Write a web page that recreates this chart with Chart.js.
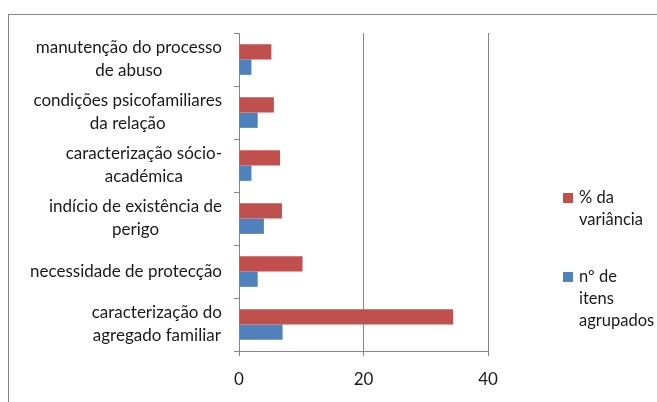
<!DOCTYPE html>
<html><head><meta charset="utf-8">
<script src="https://cdn.jsdelivr.net/npm/chart.js@4"></script>
<style>html,body{margin:0;padding:0;background:#fff;overflow:hidden}#w{position:relative;width:657px;height:402px}</style>
</head><body><div id="w"><canvas id="c" width="657" height="402"></canvas></div>
<script>
const categories = [
  ["manutenção do processo","de abuso"],
  ["condições psicofamiliares","da relação"],
  ["caracterização sócio-","académica"],
  ["indício de existência de","perigo"],
  ["necessidade de protecção"],
  ["caracterização do","agregado familiar"]
];
const seriesNames = ["% da variância", "nº de itens agrupados"];
const legendLines = [["% da","variância"],["nº de","itens","agrupados"]];
const variancia = [5.2, 5.6, 6.6, 6.9, 10.2, 34.4];
const itens = [2, 3, 2, 4, 3, 7];
const xTicks = [0, 20, 40];

const FONT = "Lato, 'Open Sans', sans-serif";
const TXT = '#1a1a1a';
const AX = '#868686';

const customText = {
  id: 'customText',
  beforeDraw(chart) {
    const ctx = chart.ctx;
    ctx.save();
    ctx.strokeStyle = AX; ctx.lineWidth = 1;
    ctx.strokeRect(8.5, 14.5, 800, 600);
    ctx.restore();
  },
  afterDraw(chart) {
    const ctx = chart.ctx;
    const y = chart.scales.y;
    ctx.save();
    ctx.font = '17px ' + FONT;
    ctx.fillStyle = TXT;
    ctx.textAlign = 'center';
    ctx.textBaseline = 'middle';
    const right = 222, lh = 23;
    chart.data.labels.forEach((lines, i) => {
      const cy = y.getPixelForTick(i);
      const w = Math.max(...lines.map(l => ctx.measureText(l).width));
      const cx = right - w / 2;
      lines.forEach((l, k) => {
        ctx.fillText(l, cx, cy + (k - (lines.length - 1) / 2) * lh);
      });
    });
    // legend
    ctx.font = '16.5px ' + FONT;
    const legTops = [193, 272];
    chart.data.datasets.forEach((ds, i) => {
      const top = legTops[i];
      ctx.fillStyle = ds.backgroundColor;
      ctx.fillRect(563, top, 10, 10);
      ctx.fillStyle = TXT;
      ctx.textAlign = 'left';
      legendLines[i].forEach((l, k) => {
        ctx.fillText(l, 579, top + 5 + k * 22);
      });
    });
    ctx.restore();
  }
};

new Chart(document.getElementById('c'), {
  type: 'bar',
  data: {
    labels: categories,
    datasets: [
      { label: seriesNames[0], data: variancia, backgroundColor: '#C0504D', borderWidth: 0 },
      { label: seriesNames[1], data: itens, backgroundColor: '#4F81BD', borderWidth: 0 }
    ]
  },
  options: {
    indexAxis: 'y',
    responsive: false,
    animation: false,
    devicePixelRatio: 1,
    layout: { padding: { left: 0, top: 33, right: 169, bottom: 0 } },
    datasets: { bar: { categoryPercentage: 0.58, barPercentage: 1.0 } },
    plugins: { legend: { display: false }, tooltip: { enabled: false } },
    scales: {
      x: {
        min: 0, max: 40,
        afterBuildTicks(s) { s.ticks = xTicks.map(v => ({ value: v })); },
        afterFit(s) { s.height = 51; },
        grid: { color: AX, drawOnChartArea: true, drawTicks: true, tickLength: 5, tickColor: AX },
        border: { display: true, color: AX },
        ticks: { font: { family: FONT, size: 17 }, color: TXT, padding: 13 }
      },
      y: {
        afterFit(s) { s.width = 239; },
        grid: { drawOnChartArea: false, drawTicks: true, tickLength: 5, color: AX, offset: true },
        border: { display: true, color: AX },
        ticks: { display: false }
      }
    }
  },
  plugins: [customText]
});
</script>
</body></html>
